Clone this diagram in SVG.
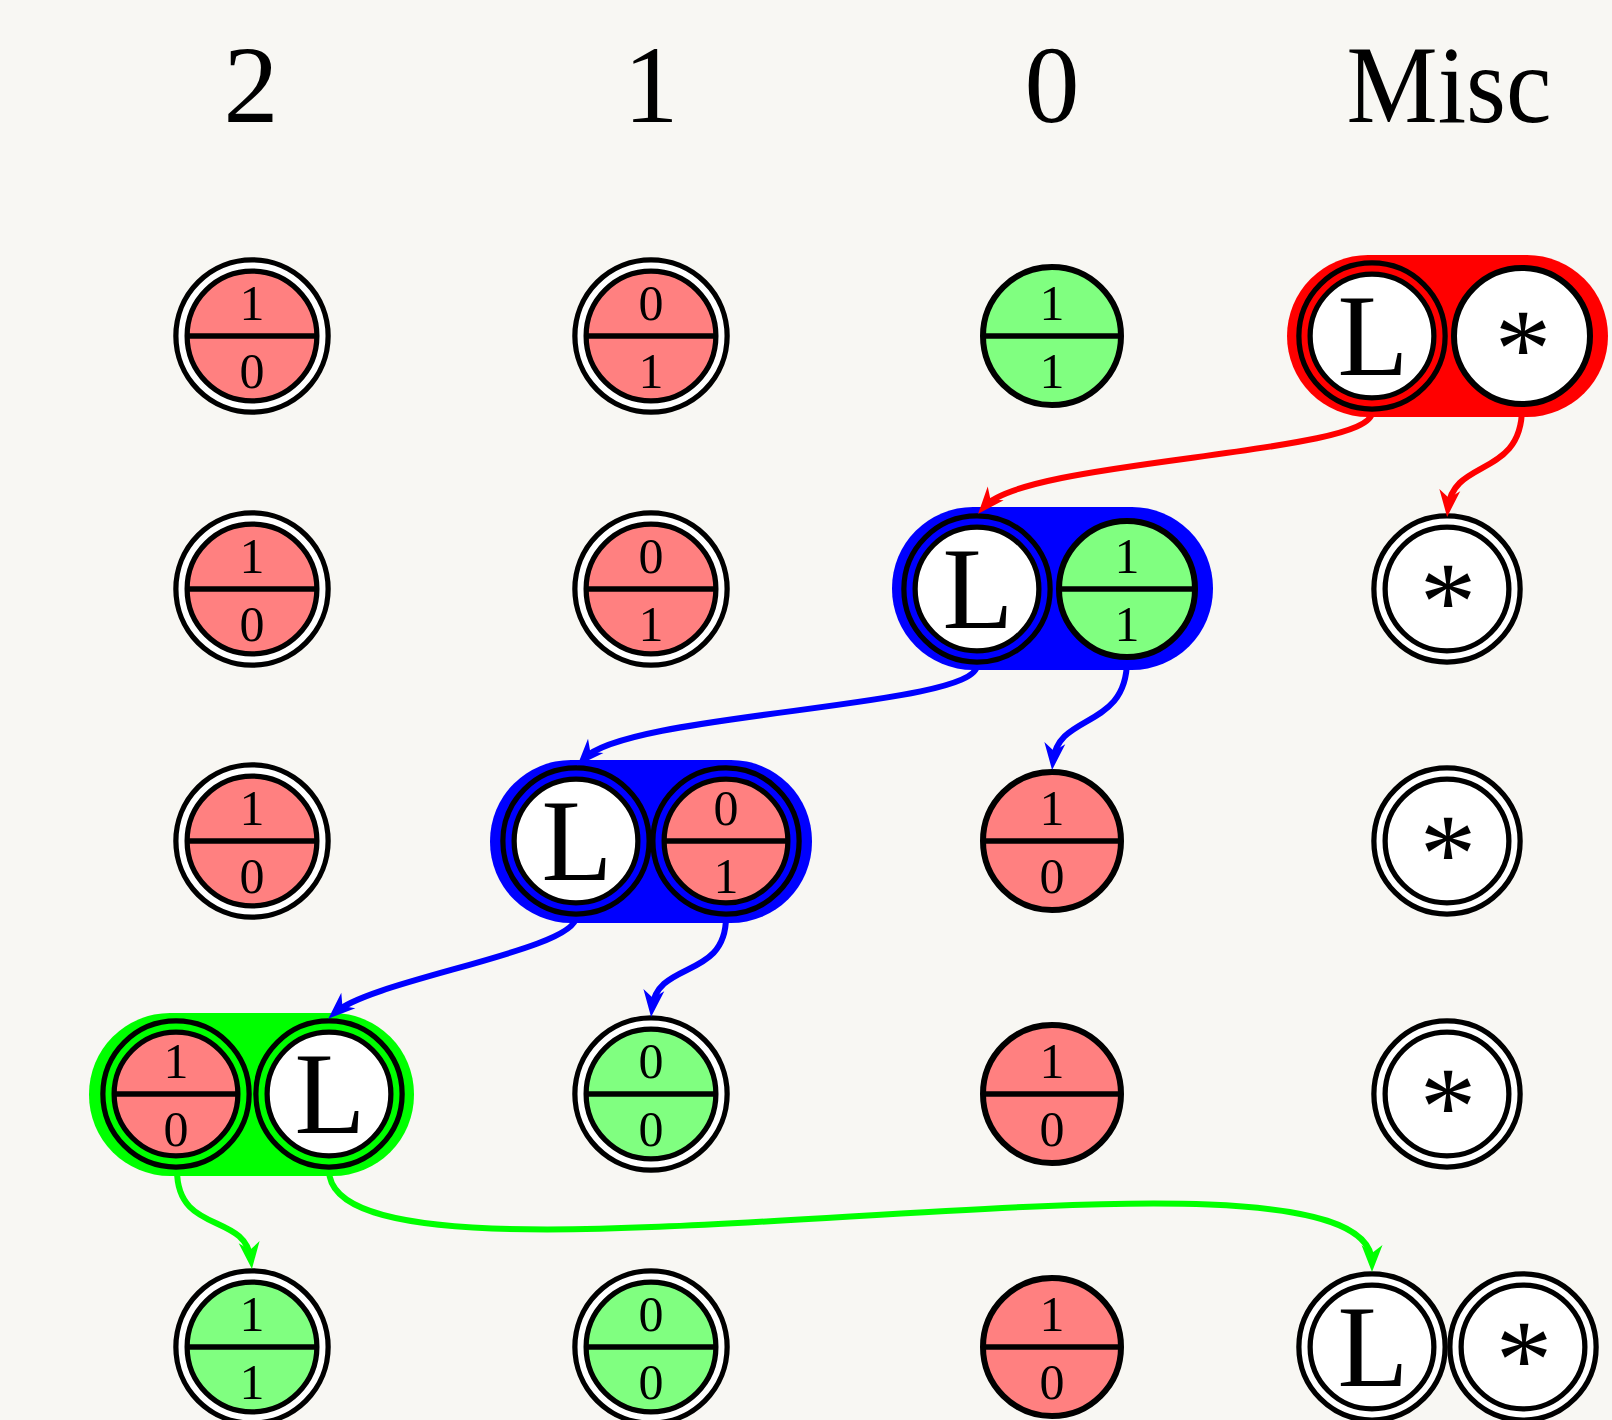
<svg xmlns="http://www.w3.org/2000/svg" width="1612" height="1420" viewBox="0 0 1612 1420">
  <style>
    .bg { fill: #f8f7f3; }
    .hdr { font-family: "Liberation Serif", "DejaVu Serif", serif; font-size: 110px; fill: #000; text-anchor: middle; }
    .num { font-family: "Liberation Serif", "DejaVu Serif", serif; font-size: 50px; fill: #000; text-anchor: middle; }
    .big { font-family: "Liberation Serif", "DejaVu Serif", serif; font-size: 116px; fill: #000; text-anchor: middle; }
    .star { font-family: "Liberation Serif", "DejaVu Serif", serif; font-size: 113px; fill: #000; text-anchor: middle; }
    .red { fill: #ff8080; }
    .green { fill: #80ff80; }
    .white { fill: #ffffff; }
    .ring { fill: none; stroke: #000; stroke-width: 16.5; }
    .gap { fill: none; stroke: #ffffff; stroke-width: 6; }
    .gap-r { fill: none; stroke: #ff0000; stroke-width: 6; }
    .gap-b { fill: none; stroke: #0000ff; stroke-width: 6; }
    .gap-g { fill: none; stroke: #00ff00; stroke-width: 6; }
    .single { fill: none; stroke: #000; stroke-width: 6; }
    .bar { stroke: #000; stroke-width: 5.5; }
    .pill-r { fill: #ff0000; }
    .pill-b { fill: #0000ff; }
    .pill-g { fill: #00ff00; }
    .edge { fill: none; stroke-width: 6; }
    .e-r { stroke: #ff0000; }
    .e-b { stroke: #0000ff; }
    .e-g { stroke: #00ff00; }
  </style>
  <defs>
    <marker id="ah-r" viewBox="-30 -12 34 24" refX="-8" refY="0" markerWidth="34" markerHeight="24" markerUnits="userSpaceOnUse" orient="auto">
      <path d="M1,0 L-26,-10.5 L-18,0 L-26,10.5 Z" fill="#ff0000"/>
    </marker>
    <marker id="ah-b" viewBox="-30 -12 34 24" refX="-8" refY="0" markerWidth="34" markerHeight="24" markerUnits="userSpaceOnUse" orient="auto">
      <path d="M1,0 L-26,-10.5 L-18,0 L-26,10.5 Z" fill="#0000ff"/>
    </marker>
    <marker id="ah-g" viewBox="-30 -12 34 24" refX="-8" refY="0" markerWidth="34" markerHeight="24" markerUnits="userSpaceOnUse" orient="auto">
      <path d="M1,0 L-26,-10.5 L-18,0 L-26,10.5 Z" fill="#00ff00"/>
    </marker>
  </defs>

  <rect class="bg" x="0" y="0" width="1612" height="1420"/>

  <!-- column headers -->
  <g id="headers">
    <text class="hdr" x="251" y="122">2</text>
    <text class="hdr" x="651" y="122">1</text>
    <text class="hdr" x="1052" y="122">0</text>
    <text class="hdr" x="1449" y="122" font-size="114" textLength="205" lengthAdjust="spacingAndGlyphs">Misc</text>
  </g>

  <!-- row 1 -->
  <g id="r1-c2" transform="translate(252,336)">
    <circle class="red" r="70.5"/>
    <line class="bar" x1="-63" y1="0" x2="63" y2="0"/>
    <circle class="ring" r="70.5"/><circle class="gap" r="70.5"/>
    <text class="num" x="0" y="-16">1</text><text class="num" x="0" y="52">0</text>
  </g>
  <g id="r1-c1" transform="translate(651,336)">
    <circle class="red" r="70.5"/>
    <line class="bar" x1="-63" y1="0" x2="63" y2="0"/>
    <circle class="ring" r="70.5"/><circle class="gap" r="70.5"/>
    <text class="num" x="0" y="-16">0</text><text class="num" x="0" y="52">1</text>
  </g>
  <g id="r1-c0" transform="translate(1052,336)">
    <circle class="green" r="69"/>
    <line class="bar" x1="-67" y1="0" x2="67" y2="0"/>
    <circle class="single" r="69"/>
    <text class="num" x="0" y="-16">1</text><text class="num" x="0" y="52">1</text>
  </g>
  <g id="r1-misc">
    <rect class="pill-r" x="1287" y="255" width="321" height="162" rx="81" ry="81"/>
    <g id="r1-misc-L" transform="translate(1372,336)">
      <circle class="white" r="67.5"/>
      <circle class="ring" r="67.5"/><circle class="gap-r" r="67.5"/>
      <text class="big" x="1" y="39">L</text>
    </g>
    <g id="r1-misc-star" transform="translate(1522,336)">
      <circle class="white" r="68"/>
      <circle class="single" r="68"/>
      <text class="star" x="1" y="50">*</text>
    </g>
  </g>

  <!-- row 2 -->
  <g id="r2-c2" transform="translate(252,589)">
    <circle class="red" r="70.5"/>
    <line class="bar" x1="-63" y1="0" x2="63" y2="0"/>
    <circle class="ring" r="70.5"/><circle class="gap" r="70.5"/>
    <text class="num" x="0" y="-16">1</text><text class="num" x="0" y="52">0</text>
  </g>
  <g id="r2-c1" transform="translate(651,589)">
    <circle class="red" r="70.5"/>
    <line class="bar" x1="-63" y1="0" x2="63" y2="0"/>
    <circle class="ring" r="70.5"/><circle class="gap" r="70.5"/>
    <text class="num" x="0" y="-16">0</text><text class="num" x="0" y="52">1</text>
  </g>
  <g id="r2-c0">
    <rect class="pill-b" x="892" y="507" width="321" height="163" rx="81" ry="81"/>
    <g id="r2-c0-L" transform="translate(977,589)">
      <circle class="white" r="67.5"/>
      <circle class="ring" r="67.5"/><circle class="gap-b" r="67.5"/>
      <text class="big" x="1" y="39">L</text>
    </g>
    <g id="r2-c0-frac" transform="translate(1127,589)">
      <circle class="green" r="68"/>
      <line class="bar" x1="-66" y1="0" x2="66" y2="0"/>
      <circle class="single" r="68"/>
      <text class="num" x="0" y="-16">1</text><text class="num" x="0" y="52">1</text>
    </g>
  </g>
  <g id="r2-misc" transform="translate(1447,589)">
    <circle class="white" r="67.5"/>
    <circle class="ring" r="67.5"/><circle class="gap" r="67.5"/>
    <text class="star" x="1" y="50">*</text>
  </g>

  <!-- row 3 -->
  <g id="r3-c2" transform="translate(252,841)">
    <circle class="red" r="70.5"/>
    <line class="bar" x1="-63" y1="0" x2="63" y2="0"/>
    <circle class="ring" r="70.5"/><circle class="gap" r="70.5"/>
    <text class="num" x="0" y="-16">1</text><text class="num" x="0" y="52">0</text>
  </g>
  <g id="r3-c1">
    <rect class="pill-b" x="490" y="760" width="322" height="163" rx="81" ry="81"/>
    <g id="r3-c1-L" transform="translate(576,841)">
      <circle class="white" r="67.5"/>
      <circle class="ring" r="67.5"/><circle class="gap-b" r="67.5"/>
      <text class="big" x="1" y="39">L</text>
    </g>
    <g id="r3-c1-frac" transform="translate(726,841)">
      <circle class="red" r="67.5"/>
      <line class="bar" x1="-60" y1="0" x2="60" y2="0"/>
      <circle class="ring" r="67.5"/><circle class="gap-b" r="67.5"/>
      <text class="num" x="0" y="-16">0</text><text class="num" x="0" y="52">1</text>
    </g>
  </g>
  <g id="r3-c0" transform="translate(1052,841)">
    <circle class="red" r="69"/>
    <line class="bar" x1="-67" y1="0" x2="67" y2="0"/>
    <circle class="single" r="69"/>
    <text class="num" x="0" y="-16">1</text><text class="num" x="0" y="52">0</text>
  </g>
  <g id="r3-misc" transform="translate(1447,841)">
    <circle class="white" r="67.5"/>
    <circle class="ring" r="67.5"/><circle class="gap" r="67.5"/>
    <text class="star" x="1" y="50">*</text>
  </g>

  <!-- row 4 -->
  <g id="r4-c2">
    <rect class="pill-g" x="89" y="1013" width="325" height="163" rx="81" ry="81"/>
    <g id="r4-c2-frac" transform="translate(176,1094)">
      <circle class="red" r="67.5"/>
      <line class="bar" x1="-60" y1="0" x2="60" y2="0"/>
      <circle class="ring" r="67.5"/><circle class="gap-g" r="67.5"/>
      <text class="num" x="0" y="-16">1</text><text class="num" x="0" y="52">0</text>
    </g>
    <g id="r4-c2-L" transform="translate(329,1094)">
      <circle class="white" r="67.5"/>
      <circle class="ring" r="67.5"/><circle class="gap-g" r="67.5"/>
      <text class="big" x="1" y="39">L</text>
    </g>
  </g>
  <g id="r4-c1" transform="translate(651,1094)">
    <circle class="green" r="70.5"/>
    <line class="bar" x1="-63" y1="0" x2="63" y2="0"/>
    <circle class="ring" r="70.5"/><circle class="gap" r="70.5"/>
    <text class="num" x="0" y="-16">0</text><text class="num" x="0" y="52">0</text>
  </g>
  <g id="r4-c0" transform="translate(1052,1094)">
    <circle class="red" r="69"/>
    <line class="bar" x1="-67" y1="0" x2="67" y2="0"/>
    <circle class="single" r="69"/>
    <text class="num" x="0" y="-16">1</text><text class="num" x="0" y="52">0</text>
  </g>
  <g id="r4-misc" transform="translate(1447,1094)">
    <circle class="white" r="67.5"/>
    <circle class="ring" r="67.5"/><circle class="gap" r="67.5"/>
    <text class="star" x="1" y="50">*</text>
  </g>

  <!-- row 5 -->
  <g id="r5-c2" transform="translate(252,1347)">
    <circle class="green" r="70.5"/>
    <line class="bar" x1="-63" y1="0" x2="63" y2="0"/>
    <circle class="ring" r="70.5"/><circle class="gap" r="70.5"/>
    <text class="num" x="0" y="-16">1</text><text class="num" x="0" y="52">1</text>
  </g>
  <g id="r5-c1" transform="translate(651,1347)">
    <circle class="green" r="70.5"/>
    <line class="bar" x1="-63" y1="0" x2="63" y2="0"/>
    <circle class="ring" r="70.5"/><circle class="gap" r="70.5"/>
    <text class="num" x="0" y="-16">0</text><text class="num" x="0" y="52">0</text>
  </g>
  <g id="r5-c0" transform="translate(1052,1347)">
    <circle class="red" r="69"/>
    <line class="bar" x1="-67" y1="0" x2="67" y2="0"/>
    <circle class="single" r="69"/>
    <text class="num" x="0" y="-16">1</text><text class="num" x="0" y="52">0</text>
  </g>
  <g id="r5-misc-L" transform="translate(1372,1347)">
    <circle class="white" r="67.5"/>
    <circle class="ring" r="67.5"/><circle class="gap" r="67.5"/>
    <text class="big" x="1" y="39">L</text>
  </g>
  <g id="r5-misc-star" transform="translate(1523,1347)">
    <circle class="white" r="67.5"/>
    <circle class="ring" r="67.5"/><circle class="gap" r="67.5"/>
    <text class="star" x="1" y="50">*</text>
  </g>

  <!-- connectors -->
  <g id="connectors">
    <path class="edge e-r" marker-end="url(#ah-r)" d="M1372,412 C1372,455 1025,459 984,507"/>
    <path class="edge e-r" marker-end="url(#ah-r)" d="M1522,408 C1522,478 1453,458 1448,508"/>
    <path class="edge e-b" marker-end="url(#ah-b)" d="M977,665 C977,708 627,712 583.5,759"/>
    <path class="edge e-b" marker-end="url(#ah-b)" d="M1127,660 C1127,730 1058,712 1053,761"/>
    <path class="edge e-b" marker-end="url(#ah-b)" d="M576,917 C576,950 371,980 335,1012.6"/>
    <path class="edge e-b" marker-end="url(#ah-b)" d="M726,917 C726,980 657,960 652,1008"/>
    <path class="edge e-g" marker-end="url(#ah-g)" d="M177,1170 C177,1235 246,1212 251,1260"/>
    <path class="edge e-g" marker-end="url(#ah-g)" d="M329,1170 C329,1326 1372,1107 1372,1263"/>
  </g>
</svg>
